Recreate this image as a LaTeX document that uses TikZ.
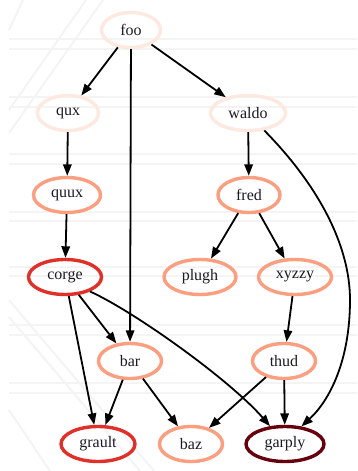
\documentclass[tikz,border=0pt]{standalone}
\usepackage{fontspec}
\setmainfont{Liberation Serif}
\usetikzlibrary{shapes.geometric,arrows.meta}
\definecolor{rA}{HTML}{FDE9E0}
\definecolor{rB}{HTML}{FC9E80}
\definecolor{rC}{HTML}{E0302A}
\definecolor{rD}{HTML}{67000D}
\definecolor{bgline}{HTML}{F4F4F4}
\definecolor{txt}{HTML}{1A1A24}
\tikzset{
  gnode/.style={ellipse, draw, line width=3.4pt, inner sep=0pt, minimum height=35pt,
    font=\fontsize{16}{18}\selectfont, text=txt},
  edge/.style={line width=1.8pt, -{Triangle[length=11.5pt,width=8.5pt]}},
  bgl/.style={bgline, line width=2pt},
}
\begin{document}
\begin{tikzpicture}[x=1pt,y=-1pt]
\useasboundingbox (0,0) rectangle (357,471);
\fill[white] (0,0) rectangle (357,471);
% faint background lines
\foreach \y in {39,49,97,107,154,164,212,221,267,276,325,335,383,393}
  \draw[bgl] (9,\y) -- (357,\y);
\draw[bgl] (9,133) -- (103,0);
\draw[bgl] (9,110) -- (86,0);
\draw[bgl] (9,30) -- (23,0);
\draw[bgl] (9,317) -- (140,471);
\draw[bgl] (9,300) -- (154,471);
\draw[bgl] (9,410) -- (50,471);
% nodes
\node[gnode, draw=rA, minimum width=59pt] (foo) at (131,30) {foo};
\node[gnode, draw=rA, minimum width=61pt] (qux) at (68,113) {qux};
\node[gnode, draw=rA, minimum width=75pt] (waldo) at (248,113) {waldo};
\node[gnode, draw=rB, minimum width=67pt] (quux) at (67,195) {quux};
\node[gnode, draw=rB, minimum width=62pt] (fred) at (249,195) {fred};
\node[gnode, draw=rC, minimum width=73pt] (corge) at (65,277) {corge};
\node[gnode, draw=rB, minimum width=72pt] (plugh) at (200,277) {plugh};
\node[gnode, draw=rB, minimum width=73pt] (xyzzy) at (295,277) {xyzzy};
\node[gnode, draw=rB, minimum width=63pt] (bar) at (130,361) {bar};
\node[gnode, draw=rB, minimum width=63pt] (thud) at (284,361) {thud};
\node[gnode, draw=rC, minimum width=74pt] (grault) at (98,444) {grault};
\node[gnode, draw=rB, minimum width=63pt] (baz) at (191,444) {baz};
\node[gnode, draw=rD, minimum width=78pt] (garply) at (285,444) {garply};
% edges
\draw[edge] (foo) -- (qux);
\draw[edge] (foo) -- (bar);
\draw[edge] (foo) -- (waldo);
\draw[edge] (qux) -- (quux);
\draw[edge] (quux) -- (corge);
\draw[edge] (waldo) -- (fred);
\draw[edge] (waldo.-47) .. controls (318,185) and (350,245) .. (350,300)
   .. controls (350,360) and (330,400) .. (garply.47);
\draw[edge] (fred) -- (plugh);
\draw[edge] (fred) -- (xyzzy);
\draw[edge] (xyzzy) -- (thud);
\draw[edge] (corge) -- (grault);
\draw[edge] (corge) -- (bar);
\draw[edge] (corge.-30) .. controls (135,312) and (230,380) .. (garply.130);
\draw[edge] (bar) -- (grault);
\draw[edge] (bar) -- (baz);
\draw[edge] (thud) -- (baz);
\draw[edge] (thud) -- (garply);
\end{tikzpicture}
\end{document}
